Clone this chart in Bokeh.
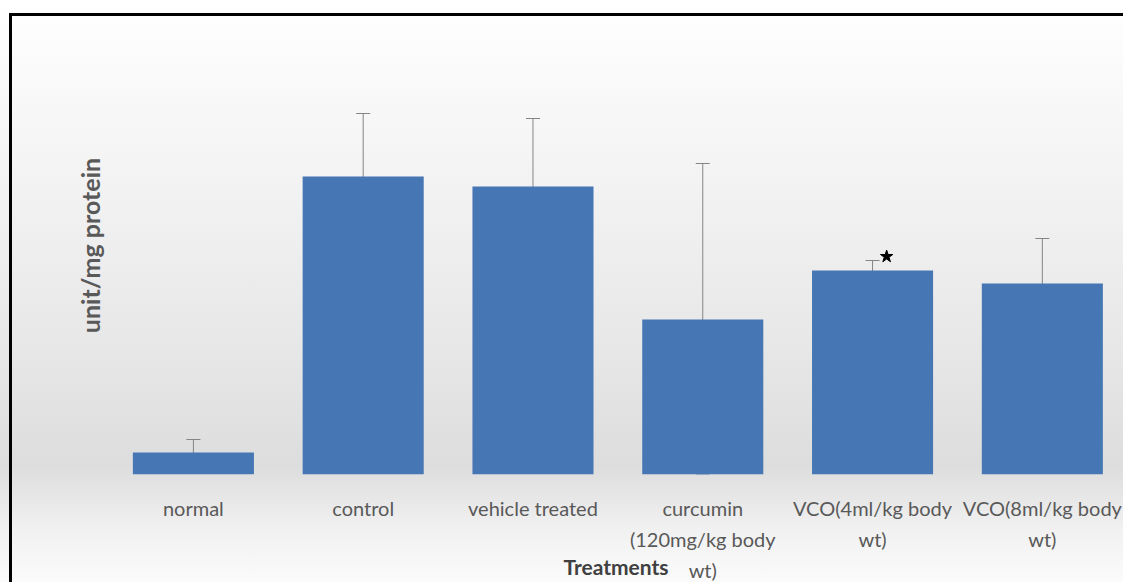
from bokeh.plotting import figure
from bokeh.models import Range1d, FixedTicker, Whisker, ColumnDataSource, TeeHead
from bokeh.embed import file_html
from bokeh.resources import INLINE

# ---- data ----
categories = [
    "normal",
    "control",
    "vehicle treated",
    "curcumin\n(120mg/kg body\nwt)",
    "VCO(4ml/kg body\nwt)",
    "VCO(8ml/kg body\nwt)",
]
means = [0.22, 2.98, 2.88, 1.55, 2.04, 1.91]
errors = [0.13, 0.63, 0.68, 1.56, 0.10, 0.45]
significant = [False, False, False, False, True, False]
y_title = "unit/mg protein"
x_title = "Treatments"

xs = list(range(len(categories)))
upper = [m + e for m, e in zip(means, errors)]
lower = [max(m - e, 0.0) for m, e in zip(means, errors)]
src = ColumnDataSource(dict(x=xs, m=means, upper=upper, lower=lower))

FONT = "Lato"
BAR = "#4677b4"
ERR = "#858585"

p = figure(
    width=1123, height=582,
    x_range=Range1d(-0.5, 5.478), y_range=Range1d(0, 4.58),
    output_backend="svg", toolbar_location=None,
    min_border_left=108, min_border_right=0,
    min_border_top=16, min_border_bottom=108,
)
p.background_fill_alpha = 0
p.border_fill_alpha = 0
p.outline_line_color = None
p.xgrid.visible = False
p.ygrid.visible = False
p.styles = {
    "background": (
        "linear-gradient(#000,#000) 9px 13px / 100% 3px no-repeat, "
        "linear-gradient(#000,#000) 9px 13px / 3px 100% no-repeat, "
        "linear-gradient(to bottom, #ffffff 0%, #f7f7f7 20%, #f0f0f0 38%, "
        "#e7e7e7 60%, #dddddd 80%, #e6e6e6 85%, #f1f1f1 91%, #fbfbfb 100%)"
    )
}

p.vbar(x="x", top="m", width=0.713, source=src, fill_color=BAR, line_color=None)

p.add_layout(Whisker(
    base="x", upper="upper", lower="lower", source=src,
    line_color=ERR, line_width=1,
    upper_head=TeeHead(size=14, line_color=ERR, line_width=1),
    lower_head=TeeHead(size=14, line_color="#7f96b8", line_width=1),
))

star_x = [x + 0.083 for x, s in zip(xs, significant) if s]
star_y = [u + 0.04 for u, s in zip(upper, significant) if s]
p.scatter(star_x, star_y, marker="star", size=13, color="black")

# x axis
xa = p.xaxis[0]
xa.ticker = FixedTicker(ticks=xs)
xa.major_label_overrides = {i: c for i, c in zip(xs, categories)}
xa.axis_line_color = None
xa.major_tick_line_color = None
xa.minor_tick_line_color = None
xa.major_tick_out = 0
xa.major_label_text_font = FONT
xa.major_label_text_font_size = "20px"
xa.major_label_text_color = "#595959"
xa.major_label_standoff = 21
xa.major_label_text_line_height = 1.31
xa.axis_label = x_title
xa.axis_label_text_font = FONT
xa.axis_label_text_font_style = "bold"
xa.axis_label_text_font_size = "21px"
xa.axis_label_text_color = "#404040"
xa.axis_label_standoff = -31

# y axis: only a title
ya = p.yaxis[0]
ya.ticker = FixedTicker(ticks=[])
ya.axis_line_color = None
ya.major_tick_line_color = None
ya.minor_tick_line_color = None
ya.major_tick_out = 0
ya.axis_label = y_title
ya.axis_label_text_font = FONT
ya.axis_label_text_font_style = "bold"
ya.axis_label_text_font_size = "25px"
ya.axis_label_text_color = "#595959"
ya.axis_label_standoff = 4

open("out.html", "w").write(file_html(p, INLINE))
